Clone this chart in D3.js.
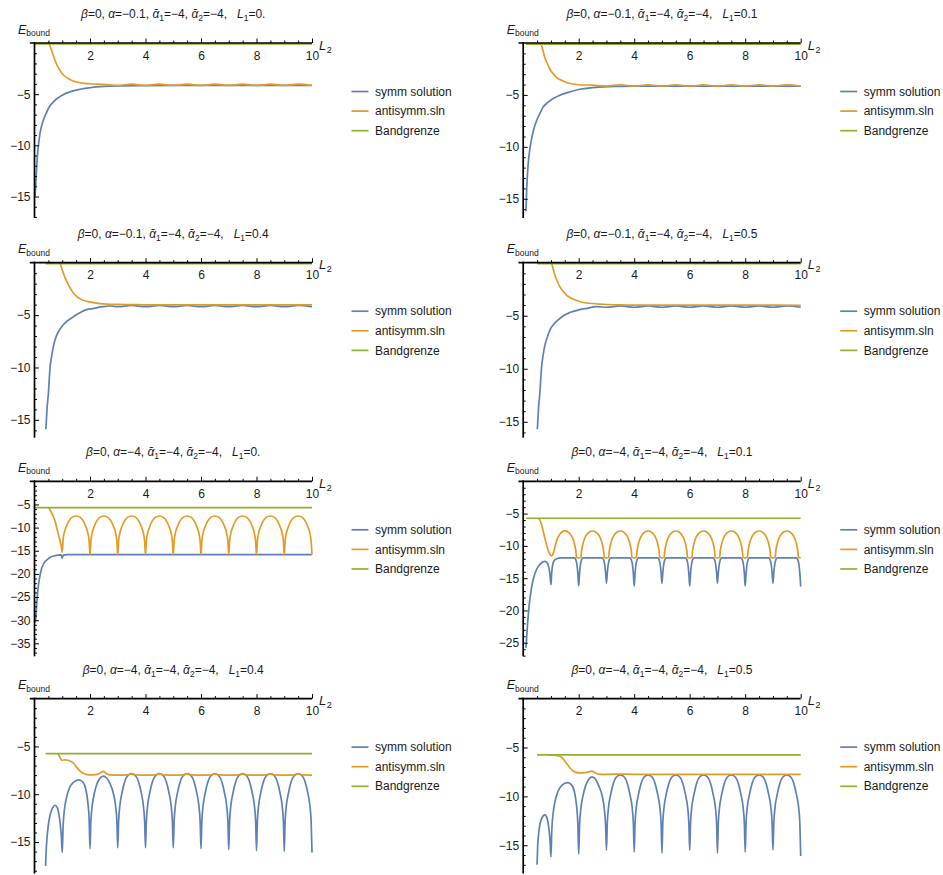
<!DOCTYPE html>
<html>
<head>
<meta charset="utf-8">
<script src="https://cdn.jsdelivr.net/npm/d3@7"></script>
<style>
  body { margin: 0; background: #fff; }
  text { font-family: "Liberation Sans", Arial, sans-serif; }
</style>
</head>
<body>
<svg id="chart" width="943" height="875"></svg>
<script>
// ---- values, one pair [L2, E] per point ----

// alpha = -0.1
var symmA = [[0.02,-15.0],[0.05,-13.6],[0.1,-11.2],[0.15,-9.8],[0.2,-8.8],[0.3,-7.7],[0.4,-7.0],[0.5,-6.4],[0.7,-5.7],[1.0,-5.1],[1.25,-4.8],[1.5,-4.6],[2.0,-4.37],[2.5,-4.24],[3,-4.18],[4,-4.16],[5,-4.15],[6,-4.15],[7,-4.15],[8,-4.15],[9,-4.15],[10,-4.15]];
var antiA = [[0.52,0],[0.6,-0.6],[0.7,-1.4],[0.8,-2.1],[0.9,-2.6],[1.0,-3.0],[1.2,-3.45],[1.4,-3.72],[1.6,-3.86],[1.8,-3.94],[2.0,-3.98],[2.5,-4.04],[3,-4.14],[3.5,-4.02],[4,-4.15],[4.5,-4.02],[5,-4.15],[5.5,-4.02],[6,-4.15],[6.5,-4.02],[7,-4.15],[7.5,-4.02],[8,-4.15],[8.5,-4.02],[9,-4.15],[9.5,-4.02],[10,-4.15]];

var symmB = [[0.1,-16.2],[0.13,-13.8],[0.17,-12.0],[0.22,-10.6],[0.29,-9.4],[0.38,-8.3],[0.48,-7.5],[0.6,-6.8],[0.71,-6.2],[0.9,-5.7],[1.08,-5.35],[1.3,-5.05],[1.56,-4.8],[2.04,-4.45],[2.5,-4.3],[2.9,-4.22],[3.5,-4.18],[4,-4.16],[5,-4.15],[6,-4.15],[7,-4.15],[8,-4.15],[9,-4.15],[10,-4.15]];
var antiB = [[0.63,0],[0.7,-0.6],[0.78,-1.4],[0.87,-2.0],[0.96,-2.5],[1.08,-2.95],[1.2,-3.3],[1.4,-3.62],[1.56,-3.8],[1.8,-3.95],[2.04,-4.02],[2.5,-4.06],[3,-4.14],[3.5,-4.03],[4,-4.15],[4.5,-4.03],[5,-4.15],[5.5,-4.03],[6,-4.15],[6.5,-4.03],[7,-4.15],[7.5,-4.03],[8,-4.15],[8.5,-4.03],[9,-4.15],[9.5,-4.03],[10,-4.15]];

var symmC = [[0.41,-15.9],[0.45,-14.0],[0.5,-12.5],[0.56,-10.0],[0.62,-8.9],[0.68,-8.0],[0.76,-7.2],[0.86,-6.6],[1.0,-6.05],[1.16,-5.6],[1.35,-5.25],[1.52,-4.95],[1.7,-4.68],[1.88,-4.48],[2.1,-4.38],[2.4,-4.22],[2.72,-4.13],[3,-4.2],[3.5,-4.08],[4,-4.2],[4.5,-4.08],[5,-4.2],[5.5,-4.08],[6,-4.2],[6.5,-4.08],[7,-4.2],[7.5,-4.08],[8,-4.2],[8.5,-4.08],[9,-4.2],[9.5,-4.08],[10,-4.2]];
var antiC = [[0.92,0],[0.98,-0.5],[1.04,-1.0],[1.12,-1.55],[1.22,-2.1],[1.4,-2.9],[1.64,-3.45],[1.94,-3.72],[2.36,-3.9],[2.96,-3.98],[3.5,-4.0],[4,-4.02],[5,-4.02],[6,-4.02],[7,-4.02],[8,-4.02],[9,-4.02],[10,-4.03]];

var symmD = [[0.51,-15.7],[0.55,-13.8],[0.6,-12.3],[0.66,-9.9],[0.72,-8.7],[0.78,-7.8],[0.87,-7.0],[0.96,-6.35],[1.1,-5.8],[1.26,-5.4],[1.45,-5.0],[1.68,-4.7],[2.04,-4.42],[2.3,-4.3],[2.64,-4.15],[3,-4.2],[3.5,-4.08],[4,-4.2],[4.5,-4.08],[5,-4.2],[5.5,-4.08],[6,-4.2],[6.5,-4.08],[7,-4.2],[7.5,-4.08],[8,-4.2],[8.5,-4.08],[9,-4.2],[9.5,-4.08],[10,-4.2]];
var antiD = [[1.02,0],[1.08,-0.6],[1.14,-1.15],[1.22,-1.7],[1.32,-2.25],[1.44,-2.7],[1.56,-3.05],[1.7,-3.3],[1.86,-3.5],[2.06,-3.68],[2.28,-3.8],[2.88,-3.92],[3.5,-3.98],[4,-4.0],[5,-4.0],[6,-4.0],[7,-4.0],[8,-4.0],[9,-4.0],[10,-4.02]];

// alpha = -4
var symmE = [[0.03,-30.5],[0.05,-29.0],[0.08,-26.5],[0.1,-24.9],[0.13,-23.0],[0.17,-21.3],[0.21,-20.0],[0.26,-18.8],[0.34,-17.7],[0.44,-17.0],[0.55,-16.5],[0.68,-16.15],[0.85,-15.95],[0.96,-15.9],[1.0,-16.6],[1.04,-15.95],[1.2,-15.85],[2,-15.85],[3,-15.85],[4,-15.85],[5,-15.85],[6,-15.85],[7,-15.85],[8,-15.85],[9,-15.85],[10,-15.85]];
var antiE = [[0.5,-5.65],[0.56,-6.2],[0.62,-6.9],[0.68,-7.6],[0.75,-8.8],[0.82,-10.5],[0.88,-11.9],[0.92,-12.8],[0.96,-13.9],[1.0,-15.3],
  [1.03,-12.6],[1.08,-10.9],[1.15,-9.7],[1.25,-8.5],[1.35,-7.8],[1.5,-7.5],[1.65,-7.8],[1.75,-8.5],[1.85,-9.8],[1.92,-11.1],[1.97,-13.0],[2,-15.9],
  [2.03,-13.0],[2.08,-11.1],[2.15,-9.8],[2.25,-8.5],[2.35,-7.8],[2.5,-7.5],[2.65,-7.8],[2.75,-8.5],[2.85,-9.8],[2.92,-11.1],[2.97,-13.0],[3,-15.9],
  [3.03,-13.0],[3.08,-11.1],[3.15,-9.8],[3.25,-8.5],[3.35,-7.8],[3.5,-7.5],[3.65,-7.8],[3.75,-8.5],[3.85,-9.8],[3.92,-11.1],[3.97,-13.0],[4,-15.9],
  [4.03,-13.0],[4.08,-11.1],[4.15,-9.8],[4.25,-8.5],[4.35,-7.8],[4.5,-7.5],[4.65,-7.8],[4.75,-8.5],[4.85,-9.8],[4.92,-11.1],[4.97,-13.0],[5,-15.9],
  [5.03,-13.0],[5.08,-11.1],[5.15,-9.8],[5.25,-8.5],[5.35,-7.8],[5.5,-7.5],[5.65,-7.8],[5.75,-8.5],[5.85,-9.8],[5.92,-11.1],[5.97,-13.0],[6,-15.9],
  [6.03,-13.0],[6.08,-11.1],[6.15,-9.8],[6.25,-8.5],[6.35,-7.8],[6.5,-7.5],[6.65,-7.8],[6.75,-8.5],[6.85,-9.8],[6.92,-11.1],[6.97,-13.0],[7,-15.9],
  [7.03,-13.0],[7.08,-11.1],[7.15,-9.8],[7.25,-8.5],[7.35,-7.8],[7.5,-7.5],[7.65,-7.8],[7.75,-8.5],[7.85,-9.8],[7.92,-11.1],[7.97,-13.0],[8,-15.9],
  [8.03,-13.0],[8.08,-11.1],[8.15,-9.8],[8.25,-8.5],[8.35,-7.8],[8.5,-7.5],[8.65,-7.8],[8.75,-8.5],[8.85,-9.8],[8.92,-11.1],[8.97,-13.0],[9,-15.9],
  [9.03,-13.0],[9.08,-11.1],[9.15,-9.8],[9.25,-8.5],[9.35,-7.8],[9.5,-7.5],[9.65,-7.8],[9.75,-8.5],[9.85,-9.8],[9.92,-11.1],[9.97,-13.0],[10,-15.9]];

var symmF = [[0.1,-25.8],[0.12,-24.5],[0.15,-22.5],[0.18,-20.9],[0.22,-19.0],[0.27,-17.3],[0.34,-15.6],[0.42,-14.3],[0.5,-13.5],[0.6,-12.9],[0.7,-12.5],[0.78,-12.4],[0.86,-12.6],[0.92,-13.3],[0.96,-14.3],[1.0,-16.0],[1.03,-14.0],[1.06,-13.0],[1.1,-12.4],[1.2,-12.0],[1.35,-11.85],
  [1.85,-11.85],[1.9,-12.2],[1.94,-13.0],[1.97,-14.3],[2,-16.2],[2.03,-14.3],[2.06,-13.0],[2.1,-12.2],[2.15,-11.85],
  [2.85,-11.85],[2.9,-12.2],[2.94,-13.0],[2.97,-14.2],[3,-15.8],[3.03,-14.2],[3.06,-13.0],[3.1,-12.2],[3.15,-11.85],
  [3.85,-11.85],[3.9,-12.2],[3.94,-13.0],[3.97,-14.3],[4,-16.2],[4.03,-14.3],[4.06,-13.0],[4.1,-12.2],[4.15,-11.85],
  [4.85,-11.85],[4.9,-12.2],[4.94,-13.0],[4.97,-14.2],[5,-15.8],[5.03,-14.2],[5.06,-13.0],[5.1,-12.2],[5.15,-11.85],
  [5.85,-11.85],[5.9,-12.2],[5.94,-13.0],[5.97,-14.3],[6,-16.2],[6.03,-14.3],[6.06,-13.0],[6.1,-12.2],[6.15,-11.85],
  [6.85,-11.85],[6.9,-12.2],[6.94,-13.0],[6.97,-14.2],[7,-15.8],[7.03,-14.2],[7.06,-13.0],[7.1,-12.2],[7.15,-11.85],
  [7.85,-11.85],[7.9,-12.2],[7.94,-13.0],[7.97,-14.3],[8,-16.2],[8.03,-14.3],[8.06,-13.0],[8.1,-12.2],[8.15,-11.85],
  [8.85,-11.85],[8.9,-12.2],[8.94,-13.0],[8.97,-14.2],[9,-15.8],[9.03,-14.2],[9.06,-13.0],[9.1,-12.2],[9.15,-11.85],
  [9.85,-11.85],[9.9,-12.2],[9.94,-13.0],[9.97,-14.3],[10,-16.3]];
var antiF = [[0.55,-5.7],[0.6,-6.0],[0.66,-6.7],[0.72,-7.7],[0.78,-8.8],[0.84,-9.8],[0.9,-10.7],[0.96,-11.3],[1.02,-11.55],[1.08,-11.2],[1.14,-10.2],[1.2,-9.25],[1.3,-8.3],[1.4,-7.85],[1.5,-7.65],[1.6,-7.8],[1.7,-8.2],[1.8,-9.0],[1.86,-9.9],[1.9,-10.9],[1.92,-11.8],[2,-11.85],
  [2.08,-11.8],[2.1,-10.9],[2.14,-9.9],[2.2,-9.0],[2.3,-8.2],[2.4,-7.82],[2.5,-7.7],[2.6,-7.82],[2.7,-8.2],[2.8,-9.0],[2.86,-9.9],[2.9,-10.9],[2.92,-11.8],[3,-11.85],
  [3.08,-11.8],[3.1,-10.9],[3.14,-9.9],[3.2,-9.0],[3.3,-8.2],[3.4,-7.82],[3.5,-7.7],[3.6,-7.82],[3.7,-8.2],[3.8,-9.0],[3.86,-9.9],[3.9,-10.9],[3.92,-11.8],[4,-11.85],
  [4.08,-11.8],[4.1,-10.9],[4.14,-9.9],[4.2,-9.0],[4.3,-8.2],[4.4,-7.82],[4.5,-7.7],[4.6,-7.82],[4.7,-8.2],[4.8,-9.0],[4.86,-9.9],[4.9,-10.9],[4.92,-11.8],[5,-11.85],
  [5.08,-11.8],[5.1,-10.9],[5.14,-9.9],[5.2,-9.0],[5.3,-8.2],[5.4,-7.82],[5.5,-7.7],[5.6,-7.82],[5.7,-8.2],[5.8,-9.0],[5.86,-9.9],[5.9,-10.9],[5.92,-11.8],[6,-11.85],
  [6.08,-11.8],[6.1,-10.9],[6.14,-9.9],[6.2,-9.0],[6.3,-8.2],[6.4,-7.82],[6.5,-7.7],[6.6,-7.82],[6.7,-8.2],[6.8,-9.0],[6.86,-9.9],[6.9,-10.9],[6.92,-11.8],[7,-11.85],
  [7.08,-11.8],[7.1,-10.9],[7.14,-9.9],[7.2,-9.0],[7.3,-8.2],[7.4,-7.82],[7.5,-7.7],[7.6,-7.82],[7.7,-8.2],[7.8,-9.0],[7.86,-9.9],[7.9,-10.9],[7.92,-11.8],[8,-11.85],
  [8.08,-11.8],[8.1,-10.9],[8.14,-9.9],[8.2,-9.0],[8.3,-8.2],[8.4,-7.82],[8.5,-7.7],[8.6,-7.82],[8.7,-8.2],[8.8,-9.0],[8.86,-9.9],[8.9,-10.9],[8.92,-11.8],[9,-11.85],
  [9.08,-11.8],[9.1,-10.9],[9.14,-9.9],[9.2,-9.0],[9.3,-8.2],[9.4,-7.82],[9.5,-7.7],[9.6,-7.82],[9.7,-8.2],[9.8,-9.0],[9.86,-9.9],[9.9,-10.9],[9.92,-11.8],[10,-11.85]];

var symmG = [[0.4,-17.5],[0.42,-16.0],[0.45,-14.6],[0.5,-13.2],[0.56,-12.2],[0.64,-11.5],[0.74,-11.15],[0.82,-11.4],[0.88,-12.1],[0.93,-13.2],[0.97,-14.5],[1.0,-16.1],
  [1.03,-13.4],[1.08,-11.6],[1.15,-10.4],[1.25,-9.4],[1.4,-8.75],[1.6,-8.5],[1.75,-8.75],[1.85,-9.5],[1.92,-10.8],[1.97,-12.7],[2,-15.7],
  [2.03,-12.9],[2.08,-11.2],[2.15,-10.0],[2.25,-8.9],[2.35,-8.35],[2.47,-8.1],[2.6,-8.3],[2.72,-8.9],[2.85,-10.0],[2.92,-11.2],[2.97,-12.9],[3,-15.6],
  [3.03,-12.9],[3.08,-11.1],[3.15,-9.9],[3.25,-8.7],[3.35,-8.1],[3.5,-7.85],[3.65,-8.1],[3.75,-8.7],[3.85,-9.9],[3.92,-11.1],[3.97,-12.9],[4,-15.6],
  [4.03,-12.9],[4.08,-11.1],[4.15,-9.9],[4.25,-8.7],[4.35,-8.1],[4.5,-7.85],[4.65,-8.1],[4.75,-8.7],[4.85,-9.9],[4.92,-11.1],[4.97,-12.9],[5,-15.6],
  [5.03,-12.9],[5.08,-11.1],[5.15,-9.9],[5.25,-8.7],[5.35,-8.1],[5.5,-7.85],[5.65,-8.1],[5.75,-8.7],[5.85,-9.9],[5.92,-11.1],[5.97,-12.9],[6,-15.7],
  [6.03,-12.9],[6.08,-11.1],[6.15,-9.9],[6.25,-8.7],[6.35,-8.1],[6.5,-7.85],[6.65,-8.1],[6.75,-8.7],[6.85,-9.9],[6.92,-11.1],[6.97,-12.9],[7,-15.8],
  [7.03,-12.9],[7.08,-11.1],[7.15,-9.9],[7.25,-8.7],[7.35,-8.1],[7.5,-7.85],[7.65,-8.1],[7.75,-8.7],[7.85,-9.9],[7.92,-11.1],[7.97,-12.9],[8,-15.9],
  [8.03,-12.9],[8.08,-11.1],[8.15,-9.9],[8.25,-8.7],[8.35,-8.1],[8.5,-7.85],[8.65,-8.1],[8.75,-8.7],[8.85,-9.9],[8.92,-11.1],[8.97,-12.9],[9,-16.0],
  [9.03,-12.9],[9.08,-11.1],[9.15,-9.9],[9.25,-8.7],[9.35,-8.1],[9.5,-7.85],[9.65,-8.1],[9.75,-8.7],[9.85,-9.9],[9.92,-11.1],[9.97,-12.9],[10,-16.1]];
var antiG = [[0.85,-5.75],[0.9,-6.05],[0.95,-6.35],[1.0,-6.45],[1.1,-6.4],[1.2,-6.45],[1.3,-6.55],[1.4,-6.75],[1.5,-7.1],[1.6,-7.45],[1.7,-7.7],[1.8,-7.85],[1.9,-7.95],[2.0,-7.98],[2.2,-7.95],[2.35,-7.8],[2.47,-7.62],[2.6,-7.85],[2.7,-7.98],[3,-8.0],
  [3.35,-7.98],[3.5,-7.85],[3.65,-7.98],[4,-8.0],[4.35,-7.98],[4.5,-7.85],[4.65,-7.98],[5,-8.0],[5.35,-7.98],[5.5,-7.85],[5.65,-7.98],[6,-8.0],
  [6.35,-7.98],[6.5,-7.85],[6.65,-7.98],[7,-8.0],[7.35,-7.98],[7.5,-7.85],[7.65,-7.98],[8,-8.0],[8.35,-7.98],[8.5,-7.85],[8.65,-7.98],[9,-8.0],
  [9.35,-7.98],[9.5,-7.85],[9.65,-7.98],[10,-8.0]];

var symmH = [[0.5,-17.0],[0.52,-15.2],[0.55,-14.0],[0.6,-12.9],[0.66,-12.3],[0.72,-12.0],[0.78,-11.9],[0.84,-12.1],[0.89,-12.6],[0.93,-13.4],[0.97,-14.6],[1.0,-16.2],
  [1.03,-13.5],[1.08,-11.7],[1.15,-10.5],[1.25,-9.5],[1.4,-8.85],[1.6,-8.6],[1.75,-8.85],[1.85,-9.6],[1.92,-10.9],[1.97,-12.8],[2,-15.9],
  [2.03,-13.0],[2.08,-11.2],[2.15,-10.0],[2.25,-8.9],[2.35,-8.3],[2.48,-8.0],[2.62,-8.3],[2.72,-8.9],[2.85,-10.0],[2.92,-11.2],[2.97,-13.0],[3,-15.5],
  [3.03,-12.8],[3.08,-11.0],[3.15,-9.85],[3.25,-8.65],[3.35,-8.05],[3.5,-7.8],[3.65,-8.05],[3.75,-8.65],[3.85,-9.85],[3.92,-11.0],[3.97,-12.8],[4,-15.7],
  [4.03,-12.8],[4.08,-11.0],[4.15,-9.85],[4.25,-8.65],[4.35,-8.05],[4.5,-7.8],[4.65,-8.05],[4.75,-8.65],[4.85,-9.85],[4.92,-11.0],[4.97,-12.8],[5,-15.8],
  [5.03,-12.8],[5.08,-11.0],[5.15,-9.85],[5.25,-8.65],[5.35,-8.05],[5.5,-7.8],[5.65,-8.05],[5.75,-8.65],[5.85,-9.85],[5.92,-11.0],[5.97,-12.8],[6,-15.5],
  [6.03,-12.8],[6.08,-11.0],[6.15,-9.85],[6.25,-8.65],[6.35,-8.05],[6.5,-7.8],[6.65,-8.05],[6.75,-8.65],[6.85,-9.85],[6.92,-11.0],[6.97,-12.8],[7,-15.8],
  [7.03,-12.8],[7.08,-11.0],[7.15,-9.85],[7.25,-8.65],[7.35,-8.05],[7.5,-7.8],[7.65,-8.05],[7.75,-8.65],[7.85,-9.85],[7.92,-11.0],[7.97,-12.8],[8,-15.7],
  [8.03,-12.8],[8.08,-11.0],[8.15,-9.85],[8.25,-8.65],[8.35,-8.05],[8.5,-7.8],[8.65,-8.05],[8.75,-8.65],[8.85,-9.85],[8.92,-11.0],[8.97,-12.8],[9,-15.5],
  [9.03,-12.8],[9.08,-11.0],[9.15,-9.85],[9.25,-8.65],[9.35,-8.05],[9.5,-7.8],[9.65,-8.05],[9.75,-8.65],[9.85,-9.85],[9.92,-11.0],[9.97,-12.8],[10,-16.1]];
var antiH = [[0.9,-5.76],[1.1,-5.78],[1.25,-5.85],[1.38,-6.0],[1.5,-6.4],[1.62,-6.85],[1.72,-7.2],[1.8,-7.4],[1.9,-7.55],[2.04,-7.6],[2.2,-7.58],[2.35,-7.5],[2.47,-7.42],[2.58,-7.55],[2.7,-7.72],[3,-7.75],[3.5,-7.72],[4,-7.75],[5,-7.75],[6,-7.75],[7,-7.75],[8,-7.75],[9,-7.75],[10,-7.75]];

// Bandgrenze (flat line), where each curve starts, and the lower end of each E axis
var bandValue = [-0.1, -0.1, -0.1, -0.1, -5.7, -5.72, -5.76, -5.76];
var bandStart = [0, 0.1, 0.4, 0.5, 0, 0.1, 0.4, 0.5];
var yMinValues = [-17.1, -16.85, -16.7, -16.5, -37.8, -27.1, -18.3, -17.9];

var alphaLabels = ["\u22120.1", "\u22120.1", "\u22120.1", "\u22120.1", "\u22124", "\u22124", "\u22124", "\u22124"];
var L1Labels = ["0.", "0.1", "0.4", "0.5", "0.", "0.1", "0.4", "0.5"];
var yTickLabels = [
    [-5, -10, -15], [-5, -10, -15], [-5, -10, -15], [-5, -10, -15],
    [-5, -10, -15, -20, -25, -30, -35], [-5, -10, -15, -20, -25],
    [-5, -10, -15], [-5, -10, -15]
];
var xTickLabels = [2, 4, 6, 8, 10];
var seriesNames = ["symm solution", "antisymm.sln", "Bandgrenze"];

var symmAll = [symmA, symmB, symmC, symmD, symmE, symmF, symmG, symmH];
var antiAll = [antiA, antiB, antiC, antiD, antiE, antiF, antiG, antiH];

// ---- drawing ----
var colors = ["#5e81b5", "#e19c24", "#8fb032"];
var colX0 = [34.5, 523.2];
var rowY0 = [43, 262.7, 481.3, 698.6];
var plotW = 277.5, plotH = 175;

var svg = d3.select("#chart");
svg.append("rect").attr("width", 943).attr("height", 875).attr("fill", "#fff");

var fmt = d3.format("d");

for (var i = 0; i < 8; i++)
{
    var r = Math.floor(i / 2), c = i % 2;
    var x0 = colX0[c], y0 = rowY0[r];
    var yMin = yMinValues[i];

    var x = d3.scaleLinear().domain([0, 10]).range([x0, x0 + plotW]);
    var y = d3.scaleLinear().domain([yMin, 0]).range([y0 + plotH, y0]);

    var g = svg.append("g");

    var line = d3.line()
        .x(function(d) { return x(d[0]); })
        .y(function(d) { return y(d[1]); })
        .curve(d3.curveMonotoneX);

    var band = [[bandStart[i], bandValue[i]], [10, bandValue[i]]];
    [symmAll[i], antiAll[i], band].forEach(function(data, k) {
        g.append("path")
            .datum(data)
            .attr("d", line)
            .attr("fill", "none")
            .attr("stroke", colors[k])
            .attr("stroke-width", 1.7)
            .attr("stroke-linejoin", "round");
    });

    // x axis: ticks point up, labels below
    var xMinor = d3.range(0.5, 10.01, 0.5).filter(function(v) { return v % 2 !== 0; });
    var xa = g.append("g").attr("transform", "translate(0," + y0 + ")");
    xa.call(d3.axisBottom(x).tickValues(xTickLabels).tickSize(-4.5).tickPadding(8).tickFormat(fmt));
    xa.select(".domain").remove();
    var xm = g.append("g").attr("transform", "translate(0," + y0 + ")");
    xm.call(d3.axisBottom(x).tickValues(xMinor).tickSize(-2.5).tickFormat(""));
    xm.select(".domain").remove();

    // y axis: ticks point right, labels on the left
    var yMinor = d3.range(-1, yMin, -1).filter(function(v) { return v % 5 !== 0; });
    var ya = g.append("g").attr("transform", "translate(" + x0 + ",0)");
    ya.call(d3.axisLeft(y).tickValues(yTickLabels[i]).tickSize(-4.5).tickPadding(4).tickFormat(fmt));
    ya.select(".domain").remove();
    var ym = g.append("g").attr("transform", "translate(" + x0 + ",0)");
    ym.call(d3.axisLeft(y).tickValues(yMinor).tickSize(-2.5).tickFormat(""));
    ym.select(".domain").remove();

    [xa, xm, ya, ym].forEach(function(s) {
        s.attr("font-family", null).attr("font-size", null);
        s.selectAll("line").attr("stroke", "#000").attr("stroke-width", 1);
        s.selectAll("text").attr("fill", "#1a1a1a").attr("font-size", 12);
    });

    g.append("line")
        .attr("x1", x(-0.17)).attr("x2", x(10))
        .attr("y1", y0).attr("y2", y0)
        .attr("stroke", "#000").attr("stroke-width", 1.7);
    g.append("line")
        .attr("x1", x0).attr("x2", x0)
        .attr("y1", y0 - 1).attr("y2", y(yMin))
        .attr("stroke", "#000").attr("stroke-width", 1.7);

    // axis names
    var eb = g.append("text").attr("x", x0 - 16.5).attr("y", y0 - 9.5).attr("fill", "#1a1a1a");
    eb.append("tspan").attr("font-style", "italic").attr("font-size", 12.5).text("E");
    eb.append("tspan").attr("font-size", 8.5).attr("dy", 2.5).text("bound");

    var l2 = g.append("text").attr("x", x(10) + 7).attr("y", y0 + 6.5).attr("fill", "#1a1a1a");
    l2.append("tspan").attr("font-style", "italic").attr("font-size", 13).text("L");
    l2.append("tspan").attr("font-size", 9).attr("dy", 3).attr("dx", 0.5).text("2");

    // title
    var parts = [["\u03b2", 1], ["=0, ", 0], ["\u03b1", 1], ["=" + alphaLabels[i] + ", ", 0],
                 ["\u1fb0", 1], ["1", 2], ["=\u22124, ", 0], ["\u1fb0", 1], ["2", 2], ["=\u22124,   ", 0],
                 ["L", 1], ["1", 2], ["=" + L1Labels[i], 0]];
    var t = g.append("text")
        .attr("x", x0 + plotW / 2).attr("y", y0 - 25)
        .attr("text-anchor", "middle")
        .attr("font-size", 12)
        .attr("fill", "#1a1a1a")
        .style("white-space", "pre");
    var shifted = false;
    parts.forEach(function(p) {
        var ts = t.append("tspan").text(p[0]);
        if (p[1] === 1) ts.attr("font-style", "italic");
        if (p[1] === 2) { ts.attr("font-size", 8.5).attr("dy", 3); shifted = true; }
        else if (shifted) { ts.attr("dy", -3); shifted = false; }
    });

    // legend
    var lg = g.append("g").attr("transform", "translate(" + (x0 + 317) + "," + (y0 + 48.5) + ")");
    seriesNames.forEach(function(name, k) {
        lg.append("line")
            .attr("x1", 0).attr("x2", 17)
            .attr("y1", k * 19.6).attr("y2", k * 19.6)
            .attr("stroke", colors[k]).attr("stroke-width", 1.7);
        lg.append("text")
            .attr("x", 23.5).attr("y", k * 19.6).attr("dy", "0.35em")
            .attr("font-size", 12).attr("fill", "#1a1a1a")
            .text(name);
    });
}
</script>
</body>
</html>
